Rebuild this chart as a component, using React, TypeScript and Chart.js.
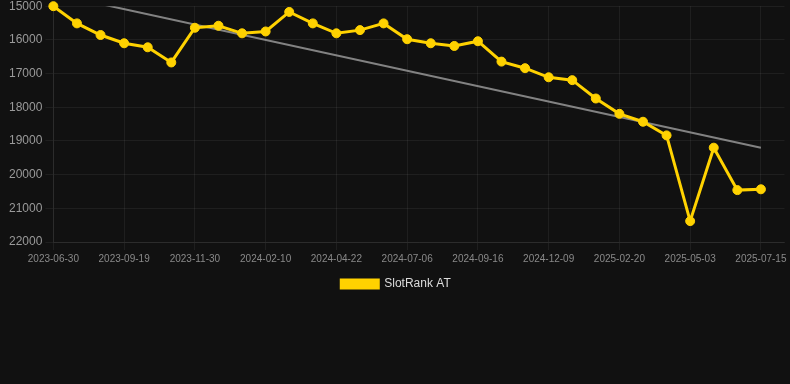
import React, { useEffect, useRef } from "react";
import { Chart, registerables } from "chart.js";

Chart.register(...registerables);

const dateLabels: string[] = [
  "2023-06-30", "2023-07-27", "2023-08-23", "2023-09-19", "2023-10-13", "2023-11-06",
  "2023-11-30", "2023-12-24", "2024-01-17", "2024-02-10", "2024-03-05", "2024-03-29",
  "2024-04-22", "2024-05-17", "2024-06-11", "2024-07-06", "2024-07-30", "2024-08-23",
  "2024-09-16", "2024-10-14", "2024-11-11", "2024-12-09", "2025-01-02", "2025-01-27",
  "2025-02-20", "2025-03-14", "2025-04-08", "2025-05-03", "2025-05-27", "2025-06-20",
  "2025-07-15", "",
];

const rankValues: (number | null)[] = [
  15000, 15510, 15855, 16100, 16220, 16670, 15640, 15580, 15805, 15750, 15170, 15510,
  15805, 15710, 15510, 15980, 16100, 16180, 16040, 16645, 16840, 17110, 17195, 17740,
  18195, 18430, 18835, 21380, 19200, 20460, 20435, null,
];

const trendValues: (number | null)[] = [
  14630, null, null, null, null, null, null, null, null, null, null, null,
  null, null, null, null, null, null, null, null, null, null, null, null,
  null, null, null, null, null, null, 19200, null,
];

const yTicks = { min: 15000, max: 22000, step: 1000 };

const BG = "#111111";
const YELLOW = "#FFD200";
const GRID = "rgba(255,255,255,0.06)";

export default function App() {
  const ref = useRef<HTMLCanvasElement | null>(null);

  useEffect(() => {
    document.body.style.margin = "0";
    document.body.style.background = BG;
    if (!ref.current) return;
    const chart = new Chart(ref.current, {
      type: "line",
      data: {
        labels: dateLabels,
        datasets: [
          {
            label: "SlotRank AT",
            data: rankValues,
            borderColor: YELLOW,
            backgroundColor: YELLOW,
            borderWidth: 3,
            pointRadius: 4.5,
            pointBorderWidth: 1,
            pointBackgroundColor: YELLOW,
            pointBorderColor: YELLOW,
            tension: 0,
            clip: false as any,
          },
          {
            label: "Trend",
            data: trendValues,
            borderColor: "rgba(150,150,150,0.85)",
            backgroundColor: "rgba(150,150,150,0.85)",
            borderWidth: 2,
            pointRadius: 0,
            spanGaps: true,
            tension: 0,
          },
        ],
      },
      options: {
        animation: false,
        responsive: true,
        maintainAspectRatio: false,
        layout: { padding: { left: 6, right: 4, top: 0, bottom: 0 } },
        plugins: {
          legend: {
            position: "bottom",
            labels: {
              color: "#dddddd",
              boxWidth: 37,
              boxHeight: 8,
              font: { family: "Liberation Sans, Arial, sans-serif", size: 12 },
              filter: (item: any) => item.datasetIndex === 0,
            },
          },
          tooltip: { enabled: false },
        },
        scales: {
          x: {
            grid: {
              color: (ctx: any) => (ctx.index % 3 === 0 && ctx.index <= 30 ? GRID : "transparent"),
              tickLength: 8,
            },
            border: { color: GRID },
            ticks: {
              autoSkip: false,
              maxRotation: 0,
              color: "#8a8a8a",
              font: { family: "Liberation Sans, Arial, sans-serif", size: 10 },
              callback: (_v: any, i: number) => (i % 3 === 0 ? dateLabels[i] : ""),
            },
          },
          y: {
            reverse: true,
            min: yTicks.min,
            max: yTicks.max,
            grid: { color: GRID, tickLength: 8 },
            border: { color: GRID },
            ticks: {
              stepSize: yTicks.step,
              color: "#9a9a9a",
              font: { family: "Liberation Sans, Arial, sans-serif", size: 12 },
              callback: (v: any) => String(v),
            },
          },
        },
      },
    });
    return () => chart.destroy();
  }, []);

  return (
    <div style={{ width: 790, height: 384, background: BG, overflow: "hidden" }}>
      <div style={{ width: 790, height: 304, marginTop: -4, position: "relative" }}>
        <canvas ref={ref} />
      </div>
    </div>
  );
}
